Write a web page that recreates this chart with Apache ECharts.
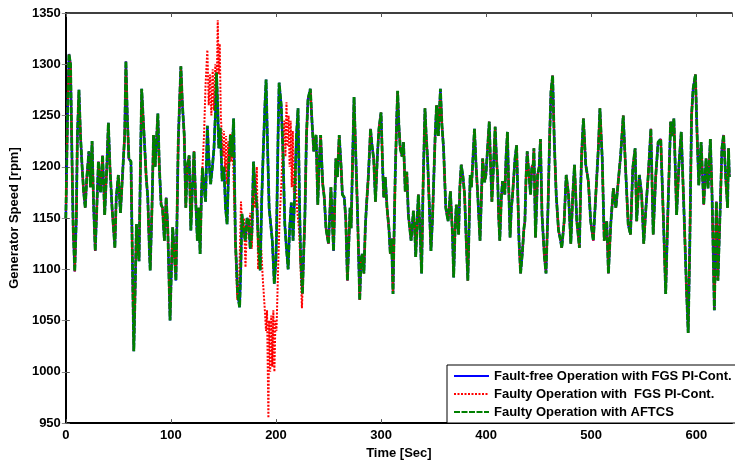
<!DOCTYPE html>
<html>
<head>
<meta charset="utf-8">
<script src="https://cdn.jsdelivr.net/npm/echarts@6/dist/echarts.min.js"></script>
<style>html,body{margin:0;padding:0;background:#fff;}#c{width:735px;height:465px;}</style>
</head>
<body>
<div id="c"></div>
<script>
// Fault-free / AFTCS trace (time [s], speed [rpm])
const baseTimes = [0,1.5,3,4.5,6,7,8.5,10,11,12.5,14,15.5,17,18.5,20,22,23.5,25,26.5,28,29.5,31,33,35,37,39,40.5,42,44,46.7,48,50,52,54.5,56,57.2,58.5,60,62,63.5,64.7,66,67.2,68.5,69.7,71,72.2,73.5,75,76.5,78,79.5,80.3,82,83.5,85,87.6,89,90.7,92,93.8,95.5,97,99.2,100.5,101.7,103,104.8,106,107,108.5,109.5,111,112.7,114.2,115.5,117.4,119,120.5,122,123.5,125.2,126.5,127.8,129,130,131.5,133,134.7,136,137.8,139.5,141,142.3,143.4,144.5,145.6,147,148.8,150.5,152,153.5,155,156.6,158,159.7,161.4,163.5,165.4,166.5,167.6,169,170.8,172.5,174,175.5,177,178.6,180,181.8,183.5,185,186.5,188,189.5,190.6,192,193.5,195,196.5,198.4,200,200.6,202,203,205,206.8,208.4,210,211.6,213,214.6,216.3,218,219.5,221,222.5,223.5,225.2,226.5,227.5,229,230.5,232.7,234.5,236,238.2,239.8,241,242.5,244.5,246,247.6,250,252.3,254.8,257,258.5,260.2,262,263.2,265,266.4,268,269.5,270.5,271.5,273,274.3,276,277.5,279.7,281,282,283.7,285,286,288,290,291.5,293,294.7,296.5,298,300,301.5,302.6,304,305.7,307.5,308.8,310,311.4,312.5,313.5,315,315.8,317,318.3,320,321.4,323,324.5,326,328.6,330.8,332,333,334.5,335.5,337,338.6,340,341.8,343,344.3,346,347.5,349,349.7,351.5,352.8,354.5,356.5,358,359.5,361.6,363.8,366,368,369.1,370.5,371.6,373.8,375,376.3,378,379.5,381,382.6,384,384.8,386,387.3,388.9,390.5,392,394.2,395.5,396.7,398.5,399.8,401.5,403,404.3,405.5,407,408.6,410,410.9,412,413,414.5,415.6,417.8,419,420.3,421.5,422.8,424,425,427.5,429,430.5,431.3,432.8,434.4,436,436.9,438,439.1,440.5,442.3,443.5,444.8,445.5,447,449,450.5,451.7,453.2,455.5,457,458.9,460.5,461.7,463.3,464.9,466.7,468.9,470.5,472,474.3,476.2,478.4,480.6,482.5,484.1,486.3,488.8,490,491,492.6,494.8,497.3,499.5,502,504.4,506.8,508.3,510.5,512.4,514.8,516.4,518.6,521.1,523.5,525.8,528,530.5,532.7,535.2,537.4,539.6,541.8,543.3,545.8,548,550,552.1,554.3,556.8,559,561.5,563.7,566.2,568.8,570.9,573.1,575.6,577,578.7,581.3,583.5,585.7,588.2,590.7,592.3,593.9,595.5,597,599.2,600.8,602.4,604.6,607.1,609.3,611.2,613.4,615,617.2,619.1,620.6,622.8,624.4,626,628.2,629.8,630.7,631.5];
const baseValues = [1150,1240,1310,1300,1200,1140,1098,1150,1230,1275,1230,1200,1175,1160,1190,1215,1180,1225,1160,1118,1160,1205,1175,1211,1153,1200,1243,1200,1160,1121,1170,1192,1155,1202,1230,1303,1250,1208,1205,1100,1020,1080,1144,1120,1108,1200,1276,1250,1221,1190,1170,1120,1099,1160,1231,1200,1252,1200,1163,1160,1128,1170,1141,1050,1100,1141,1120,1089,1160,1224,1270,1298,1260,1231,1160,1200,1211,1138,1180,1215,1170,1128,1160,1115,1170,1199,1180,1166,1240,1210,1183,1200,1218,1250,1292,1260,1218,1238,1186,1200,1160,1144,1200,1231,1210,1247,1128,1076,1063,1100,1154,1140,1128,1150,1147,1120,1134,1205,1180,1163,1120,1099,1170,1218,1260,1285,1220,1160,1144,1128,1086,1110,1140,1230,1282,1260,1210,1144,1120,1100,1140,1165,1128,1180,1230,1257,1160,1110,1076,1120,1150,1230,1266,1276,1240,1215,1231,1163,1200,1231,1183,1170,1140,1125,1180,1118,1208,1190,1231,1200,1173,1170,1150,1089,1130,1160,1140,1210,1268,1210,1160,1070,1110,1115,1096,1140,1160,1192,1237,1220,1208,1166,1210,1237,1253,1200,1170,1190,1160,1140,1115,1130,1076,1140,1192,1250,1274,1240,1218,1210,1224,1176,1195,1153,1128,1157,1140,1112,1150,1173,1140,1096,1180,1257,1230,1208,1160,1118,1150,1173,1230,1260,1230,1276,1240,1218,1160,1147,1176,1134,1092,1140,1163,1134,1180,1202,1190,1173,1130,1089,1150,1192,1180,1205,1237,1200,1173,1128,1170,1208,1185,1192,1220,1244,1200,1166,1200,1239,1205,1192,1150,1128,1170,1186,1173,1210,1234,1180,1131,1160,1170,1208,1221,1160,1128,1096,1115,1140,1147,1190,1215,1195,1173,1200,1202,1218,1131,1192,1200,1227,1153,1112,1096,1160,1231,1273,1289,1224,1173,1138,1130,1121,1147,1192,1173,1125,1173,1202,1147,1121,1180,1215,1247,1202,1186,1147,1128,1173,1218,1257,1208,1128,1147,1096,1144,1179,1160,1186,1211,1250,1199,1144,1134,1199,1218,1147,1192,1173,1125,1160,1192,1237,1134,1192,1224,1227,1147,1076,1160,1244,1230,1247,1153,1202,1234,1160,1080,1038,1128,1250,1276,1290,1231,1182,1224,1163,1208,1179,1227,1173,1060,1166,1089,1160,1218,1231,1186,1160,1218,1190];
// Faulty operation with FGS PI-Cont.: deviating segment
const faultTimes = [130,131.5,133,134.7,136,137.3,138.5,139.8,141,142.3,143.5,144.6,145.5,146.5,147.5,148.5,149.5,150.5,151.5,152.5,153.5,154.5,155.5,156.5,157.5,158.5,159.5,160.5,161.5,163.2,165,166.7,168,169.5,171,172.5,174,175.5,177,178.6,180,181.8,183,184.5,186,187.5,189.6,190.5,191.5,192.8,193.5,194.5,195.5,196.5,197.5,198.5,199.5,200.5,202,203.5,205,206.5,208,209,210,211,212,213,214,215,216,217,218.5,220,222,223.5,224.7,226,227.5,229,230.5];
const faultValues = [1199,1230,1280,1314,1260,1290,1250,1295,1255,1300,1270,1343,1290,1320,1250,1230,1210,1235,1195,1230,1183,1225,1200,1232,1205,1228,1195,1160,1121,1070,1090,1166,1140,1150,1102,1150,1135,1155,1120,1180,1160,1200,1100,1130,1120,1090,1057,1040,1060,955,1050,1000,1055,1005,1060,1000,1050,1040,1100,1150,1180,1220,1245,1210,1263,1220,1250,1200,1245,1180,1235,1175,1200,1160,1138,1100,1062,1100,1150,1230,1266];
const seriesNames = ['Fault-free Operation with FGS PI-Cont.','Faulty Operation with  FGS PI-Cont.','Faulty Operation with AFTCS'];
const xTicks = [0,100,200,300,400,500,600];
const yTicks = [950,1000,1050,1100,1150,1200,1250,1300,1350];

const base = baseTimes.map((t,i)=>[t, baseValues[i]]);
const fStart = faultTimes[0], fEnd = faultTimes[faultTimes.length-1];
const faulty = base.filter(p=>p[0]<fStart || p[0]>fEnd)
  .concat(faultTimes.map((t,i)=>[t, faultValues[i]]))
  .sort((a,b)=>a[0]-b[0]);

const FONT = 'Liberation Sans';
const chart = echarts.init(document.getElementById('c'), null, {renderer:'canvas'});
const lbl = {color:'#000', fontFamily:FONT, fontWeight:'bold', fontSize:13};
chart.setOption({
  animation:false,
  backgroundColor:'#fff',
  grid:{left:62, right:-2, top:13, bottom:37, containLabel:false},
  legend:{
    orient:'vertical', left:447, top:365,
    backgroundColor:'#fff', borderColor:'#000', borderWidth:1, borderRadius:0,
    padding:[4.5,10,4.5,6], itemGap:5, itemWidth:35, itemHeight:13,
    itemStyle:{opacity:0},
    textStyle:{color:'#000', fontFamily:FONT, fontWeight:'bold', fontSize:13},
    data:seriesNames
  },
  xAxis:[{
    type:'value', min:0, max:634, interval:100,
    name:'Time [Sec]', nameLocation:'middle', nameGap:22,
    nameTextStyle:lbl,
    axisLine:{show:true, onZero:false, lineStyle:{color:'#000', width:2}},
    axisTick:{show:true, inside:true, length:4, lineStyle:{color:'#555'}},
    axisLabel:Object.assign({margin:6, formatter:v=>xTicks.includes(v)?String(v):''}, lbl),
    splitLine:{show:false}
  },{
    type:'value', position:'top', min:0, max:634, interval:100,
    axisLine:{show:true, onZero:false, lineStyle:{color:'#000', width:1.5}},
    axisTick:{show:true, inside:true, length:4, lineStyle:{color:'#555'}},
    axisLabel:{show:false}, splitLine:{show:false}
  }],
  yAxis:[{
    type:'value', min:950, max:1350, interval:50,
    name:'Generator Speed [rpm]', nameLocation:'middle', nameGap:36,
    nameTextStyle:lbl,
    axisLine:{show:true, onZero:false, lineStyle:{color:'#000', width:2}},
    axisTick:{show:true, inside:true, length:4, lineStyle:{color:'#555'}},
    axisLabel:Object.assign({margin:5, formatter:v=>yTicks.includes(v)?String(v):''}, lbl),
    splitLine:{show:false}
  },{
    type:'value', position:'right', min:950, max:1350, interval:50,
    axisLine:{show:false},
    axisTick:{show:true, inside:true, length:4, lineStyle:{color:'#888'}},
    axisLabel:{show:false}, splitLine:{show:false}
  }],
  series:[
    {name:seriesNames[0], type:'line', data:base, showSymbol:false, symbol:'none',
     lineStyle:{color:'#0000ff', width:2.4, type:'solid'}, itemStyle:{color:'#0000ff'}, z:2},
    {name:seriesNames[1], type:'line', data:faulty, showSymbol:false, symbol:'none',
     lineStyle:{color:'#ff0000', width:2, type:[2,1.5]}, itemStyle:{color:'#ff0000'}, z:3},
    {name:seriesNames[2], type:'line', data:base, showSymbol:false, symbol:'none',
     lineStyle:{color:'#008000', width:2.8, type:[6,1.5]}, itemStyle:{color:'#008000'}, z:4}
  ]
});
</script>
</body>
</html>
